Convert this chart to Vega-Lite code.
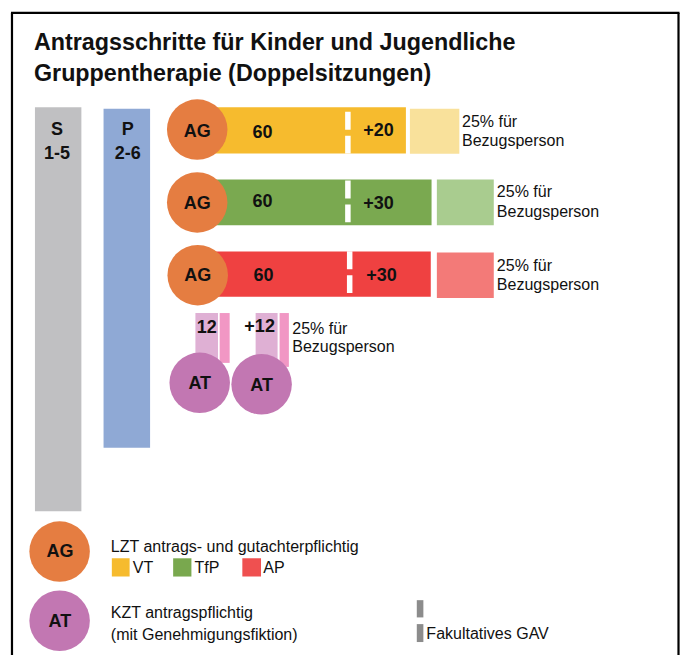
{
  "$schema": "https://vega.github.io/schema/vega-lite/v6.json",
  "width": 681,
  "height": 657,
  "autosize": {"type": "fit", "contains": "padding"},
  "padding": 0,
  "background": "white",
  "config": {"view": {"stroke": null}},
  "datasets": {
    "frame": [
      {"x": 12, "x2": 12, "y": 13, "y2": 657},
      {"x": 11, "x2": 680.5, "y": 13, "y2": 13},
      {"x": 679.5, "x2": 679.5, "y": 13, "y2": 657}
    ],
    "rects": [
      {"item": "S 1-5", "x": 35, "x2": 81.5, "y": 107.7, "y2": 512.7, "color": "#c0c0c2"},
      {"item": "P 2-6", "x": 103.7, "x2": 150.3, "y": 109, "y2": 449, "color": "#8fa9d5"},
      {"item": "VT", "x": 200, "x2": 406.5, "y": 107.7, "y2": 154, "color": "#f6bb2e"},
      {"item": "VT Bezugsperson", "x": 410.5, "x2": 460, "y": 109, "y2": 154.3, "color": "#f9e19b"},
      {"item": "TfP", "x": 200, "x2": 432.2, "y": 180, "y2": 226, "color": "#7aa950"},
      {"item": "TfP Bezugsperson", "x": 437.5, "x2": 494.5, "y": 180, "y2": 226, "color": "#a9cc8f"},
      {"item": "AP", "x": 200, "x2": 431.4, "y": 252.3, "y2": 297.7, "color": "#ef4141"},
      {"item": "AP Bezugsperson", "x": 437.5, "x2": 494.5, "y": 253.3, "y2": 299, "color": "#f37a78"},
      {"item": "KZT 1", "x": 195.7, "x2": 218.3, "y": 314, "y2": 375, "color": "#dfb0d4"},
      {"item": "KZT 1 Bezugsperson", "x": 220, "x2": 230, "y": 314, "y2": 364, "color": "#f197c4"},
      {"item": "KZT 2", "x": 256, "x2": 278, "y": 314, "y2": 375, "color": "#dfb0d4"},
      {"item": "KZT 2 Bezugsperson", "x": 280, "x2": 289.3, "y": 314, "y2": 368, "color": "#f197c4"},
      {"item": "Legende VT", "x": 112, "x2": 129.8, "y": 560, "y2": 578.3, "color": "#f6bb2e"},
      {"item": "Legende TfP", "x": 173.4, "x2": 191.7, "y": 560, "y2": 578.3, "color": "#79a84e"},
      {"item": "Legende AP", "x": 242.7, "x2": 261.4, "y": 560, "y2": 578.3, "color": "#ef5050"},
      {"item": "Legende GAV 1", "x": 417.4, "x2": 424, "y": 602, "y2": 619.3, "color": "#8c8c8c"},
      {"item": "Legende GAV 2", "x": 417.4, "x2": 424, "y": 626, "y2": 644, "color": "#8c8c8c"}
    ],
    "gav": [
      {"row": "VT", "x": 348.4, "y": 112, "y2": 154},
      {"row": "TfP", "x": 348.4, "y": 181, "y2": 223},
      {"row": "AP", "x": 350.2, "y": 252, "y2": 294}
    ],
    "circles": [
      {"label": "AG", "x": 197.5, "y": 130, "color": "#e57d41"},
      {"label": "AG", "x": 197.5, "y": 203, "color": "#e57d41"},
      {"label": "AG", "x": 198, "y": 276, "color": "#e57d41"},
      {"label": "AT", "x": 200, "y": 384, "color": "#c277b2"},
      {"label": "AT", "x": 262, "y": 385.5, "color": "#c277b2"},
      {"label": "AG", "x": 59.7, "y": 553.3, "color": "#e57d41"},
      {"label": "AT", "x": 59.7, "y": 622.7, "color": "#c277b2"}
    ],
    "title": [
      {"label": "Antragsschritte für Kinder und Jugendliche", "x": 34, "y": 50.5},
      {"label": "Gruppentherapie (Doppelsitzungen)", "x": 34, "y": 81.5}
    ],
    "boldLabels": [
      {"label": "S", "x": 57, "y": 130},
      {"label": "1-5", "x": 57, "y": 154},
      {"label": "P", "x": 128, "y": 130},
      {"label": "2-6", "x": 128, "y": 154},
      {"label": "AG", "x": 197.5, "y": 132},
      {"label": "60", "x": 263, "y": 133},
      {"label": "+20", "x": 379, "y": 131},
      {"label": "AG", "x": 197.5, "y": 205},
      {"label": "60", "x": 263, "y": 203},
      {"label": "+30", "x": 379, "y": 205},
      {"label": "AG", "x": 198, "y": 277},
      {"label": "60", "x": 264, "y": 277},
      {"label": "+30", "x": 382, "y": 277},
      {"label": "12", "x": 207, "y": 329},
      {"label": "+12", "x": 260, "y": 328},
      {"label": "AT", "x": 200, "y": 385},
      {"label": "AT", "x": 262, "y": 387},
      {"label": "AG", "x": 60, "y": 554},
      {"label": "AT", "x": 60, "y": 624}
    ],
    "plainLabels": [
      {"label": "25% für", "x": 462.7, "y": 122.7},
      {"label": "Bezugsperson", "x": 462.7, "y": 141.7},
      {"label": "25% für", "x": 497.6, "y": 193},
      {"label": "Bezugsperson", "x": 497.6, "y": 212.7},
      {"label": "25% für", "x": 497.6, "y": 266.7},
      {"label": "Bezugsperson", "x": 497.6, "y": 285.7},
      {"label": "25% für", "x": 292.7, "y": 330},
      {"label": "Bezugsperson", "x": 292.7, "y": 348},
      {"label": "LZT antrags- und gutachterpflichtig", "x": 111, "y": 549},
      {"label": "VT", "x": 133, "y": 570},
      {"label": "TfP", "x": 194.8, "y": 570},
      {"label": "AP", "x": 263.6, "y": 570},
      {"label": "KZT antragspflichtig", "x": 111, "y": 615},
      {"label": "(mit Genehmigungsfiktion)", "x": 111, "y": 636.7},
      {"label": "Fakultatives GAV", "x": 427, "y": 636}
    ]
  },
  "layer": [
    {
      "data": {"name": "rects"},
      "mark": {"type": "rect"},
      "encoding": {
        "x": {"field": "x", "type": "quantitative", "scale": {"domain": [0, 681], "nice": false, "zero": false}, "axis": null},
        "x2": {"field": "x2"},
        "y": {"field": "y", "type": "quantitative", "scale": {"domain": [0, 657], "nice": false, "zero": false, "reverse": true}, "axis": null},
        "y2": {"field": "y2"},
        "color": {"field": "color", "type": "nominal", "scale": null, "legend": null}
      }
    },
    {
      "data": {"name": "gav"},
      "mark": {"type": "rule", "color": "white", "strokeWidth": 5.5, "strokeDash": [18, 6]},
      "encoding": {
        "x": {"field": "x", "type": "quantitative", "scale": {"domain": [0, 681], "nice": false, "zero": false}, "axis": null},
        "y": {"field": "y", "type": "quantitative", "scale": {"domain": [0, 657], "nice": false, "zero": false, "reverse": true}, "axis": null},
        "y2": {"field": "y2"}
      }
    },
    {
      "data": {"name": "circles"},
      "mark": {"type": "point", "shape": "circle", "filled": true, "opacity": 1, "size": 3660},
      "encoding": {
        "x": {"field": "x", "type": "quantitative", "scale": {"domain": [0, 681], "nice": false, "zero": false}, "axis": null},
        "y": {"field": "y", "type": "quantitative", "scale": {"domain": [0, 657], "nice": false, "zero": false, "reverse": true}, "axis": null},
        "color": {"field": "color", "type": "nominal", "scale": null, "legend": null}
      }
    },
    {
      "data": {"name": "frame"},
      "mark": {"type": "rule", "color": "black", "strokeWidth": 2.2},
      "encoding": {
        "x": {"field": "x", "type": "quantitative", "scale": {"domain": [0, 681], "nice": false, "zero": false}, "axis": null},
        "x2": {"field": "x2"},
        "y": {"field": "y", "type": "quantitative", "scale": {"domain": [0, 657], "nice": false, "zero": false, "reverse": true}, "axis": null},
        "y2": {"field": "y2"}
      }
    },
    {
      "data": {"name": "title"},
      "mark": {"type": "text", "font": "Liberation Sans", "fontWeight": "bold", "fontSize": 23.3, "align": "left", "baseline": "alphabetic", "color": "#111111"},
      "encoding": {
        "x": {"field": "x", "type": "quantitative", "scale": {"domain": [0, 681], "nice": false, "zero": false}, "axis": null},
        "y": {"field": "y", "type": "quantitative", "scale": {"domain": [0, 657], "nice": false, "zero": false, "reverse": true}, "axis": null},
        "text": {"field": "label"}
      }
    },
    {
      "data": {"name": "boldLabels"},
      "mark": {"type": "text", "font": "Liberation Sans", "fontWeight": "bold", "fontSize": 18, "align": "center", "baseline": "middle", "color": "#111111"},
      "encoding": {
        "x": {"field": "x", "type": "quantitative", "scale": {"domain": [0, 681], "nice": false, "zero": false}, "axis": null},
        "y": {"field": "y", "type": "quantitative", "scale": {"domain": [0, 657], "nice": false, "zero": false, "reverse": true}, "axis": null},
        "text": {"field": "label"}
      }
    },
    {
      "data": {"name": "plainLabels"},
      "mark": {"type": "text", "font": "Liberation Sans", "fontSize": 16, "align": "left", "baseline": "middle", "color": "#111111"},
      "encoding": {
        "x": {"field": "x", "type": "quantitative", "scale": {"domain": [0, 681], "nice": false, "zero": false}, "axis": null},
        "y": {"field": "y", "type": "quantitative", "scale": {"domain": [0, 657], "nice": false, "zero": false, "reverse": true}, "axis": null},
        "text": {"field": "label"}
      }
    }
  ]
}
